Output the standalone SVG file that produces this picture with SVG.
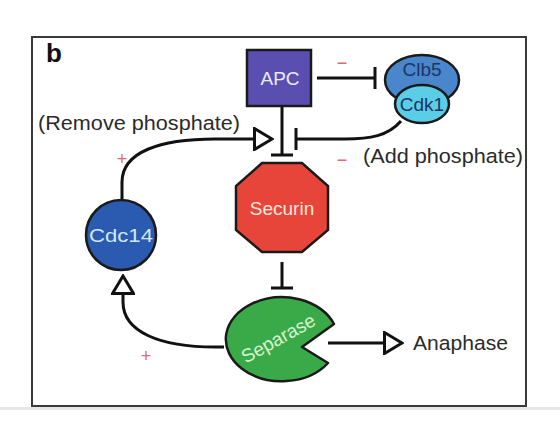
<svg xmlns="http://www.w3.org/2000/svg" width="560" height="433" viewBox="0 0 560 433">
<style>
.lbl{font-family:"Liberation Sans",Arial,sans-serif;font-size:20.5px;fill:#2b2b2b}
.node{stroke:#1a1a1a;stroke-width:2.5}
.conn{fill:none;stroke:#111;stroke-width:3}
.sign{font-family:"Liberation Sans",Arial,sans-serif;font-size:18px;fill:#e06a6a;text-anchor:middle}
.in{font-family:"Liberation Sans",Arial,sans-serif;font-size:19px;text-anchor:middle}
</style>
<defs>
<marker id="tri" viewBox="0 0 21 24" refX="19" refY="12" markerWidth="21" markerHeight="24" markerUnits="userSpaceOnUse" orient="auto">
<path d="M1.5,1.5 L19,12 L1.5,22.5 Z" fill="#fff" stroke="#111" stroke-width="3" stroke-linejoin="miter"/>
</marker>
<marker id="tbar" viewBox="0 0 4 22" refX="2" refY="11" markerWidth="4" markerHeight="22" markerUnits="userSpaceOnUse" orient="auto">
<path d="M2,0 L2,22" stroke="#111" stroke-width="3"/>
</marker>
</defs>
<rect x="0" y="0" width="560" height="433" fill="#fff"/>
<rect x="0" y="407" width="560" height="3" fill="#e6e6e6"/>
<rect x="32" y="37" width="494" height="369" fill="#fff" stroke="#3a3a3a" stroke-width="2"/>
<text x="46" y="62" font-family="Liberation Sans,Arial,sans-serif" font-size="26" font-weight="bold" fill="#111">b</text>

<g id="connectors">
<path class="conn" d="M317 78 L375 78" marker-end="url(#tbar)"/>
<path class="conn" d="M282 107 L282 155" marker-end="url(#tbar)"/>
<path class="conn" d="M401 121 C388 136 370 139 345 139 L296 139" marker-end="url(#tbar)"/>
<path class="conn" d="M122 200 L122 182 C122 152 160 139 215 139 L272 139" marker-end="url(#tri)"/>
<path class="conn" d="M282 262 L282 288" marker-end="url(#tbar)"/>
<path class="conn" d="M224 347 L215 347 C160 347 123 332 123 302 L123 276" marker-end="url(#tri)"/>
<path class="conn" d="M328 343 L402 343" marker-end="url(#tri)"/>
</g>

<g id="signs">
<text class="sign" x="342" y="69">−</text>
<text class="sign" x="342" y="166">−</text>
<text class="sign" x="122" y="165">+</text>
<text class="sign" x="146" y="362">+</text>
</g>

<g id="labels">
<text class="lbl" x="38" y="130" textLength="202" lengthAdjust="spacingAndGlyphs">(Remove phosphate)</text>
<text class="lbl" x="363" y="163" textLength="160" lengthAdjust="spacingAndGlyphs">(Add phosphate)</text>
<text class="lbl" x="413" y="350" textLength="95" lengthAdjust="spacingAndGlyphs">Anaphase</text>
</g>

<g id="apc">
<rect class="node" x="247" y="50" width="64" height="56" fill="#5a4fb0"/>
<text class="in" x="280" y="85" fill="#eeeaff" font-size="20.5">APC</text>
</g>

<g id="clb5-cdk1">
<ellipse class="node" cx="422" cy="80" rx="37" ry="25" fill="#4a86cc"/>
<text class="in" x="422" y="76" fill="#1c3566" font-size="19">Clb5</text>
<ellipse class="node" cx="422" cy="104" rx="27" ry="19" fill="#5ccde6"/>
<text class="in" x="422" y="111" fill="#1c3566" font-size="19">Cdk1</text>
</g>

<g id="securin">
<polygon class="node" points="262,163 302,163 328,186 328,230 302,252 262,252 236,230 236,186" fill="#e8453a"/>
<text class="in" x="282" y="215" fill="#fde6dc" font-size="20.5">Securin</text>
</g>

<g id="cdc14">
<circle class="node" cx="121" cy="235" r="35" fill="#2a5bb0"/>
<text class="in" x="121" y="242" fill="#d2e8ff" font-size="20.5" textLength="64" lengthAdjust="spacingAndGlyphs">Cdc14</text>
</g>

<g id="separase">
<path class="node" d="M302 347 L334 324 A56 42 0 1 0 328 363 Z" fill="#3aaa48" stroke-linejoin="round"/>
<text class="in" x="278" y="345" fill="#d4f5cf" font-size="19.5" transform="rotate(-29 278 338)">Separase</text>
</g>
</svg>
